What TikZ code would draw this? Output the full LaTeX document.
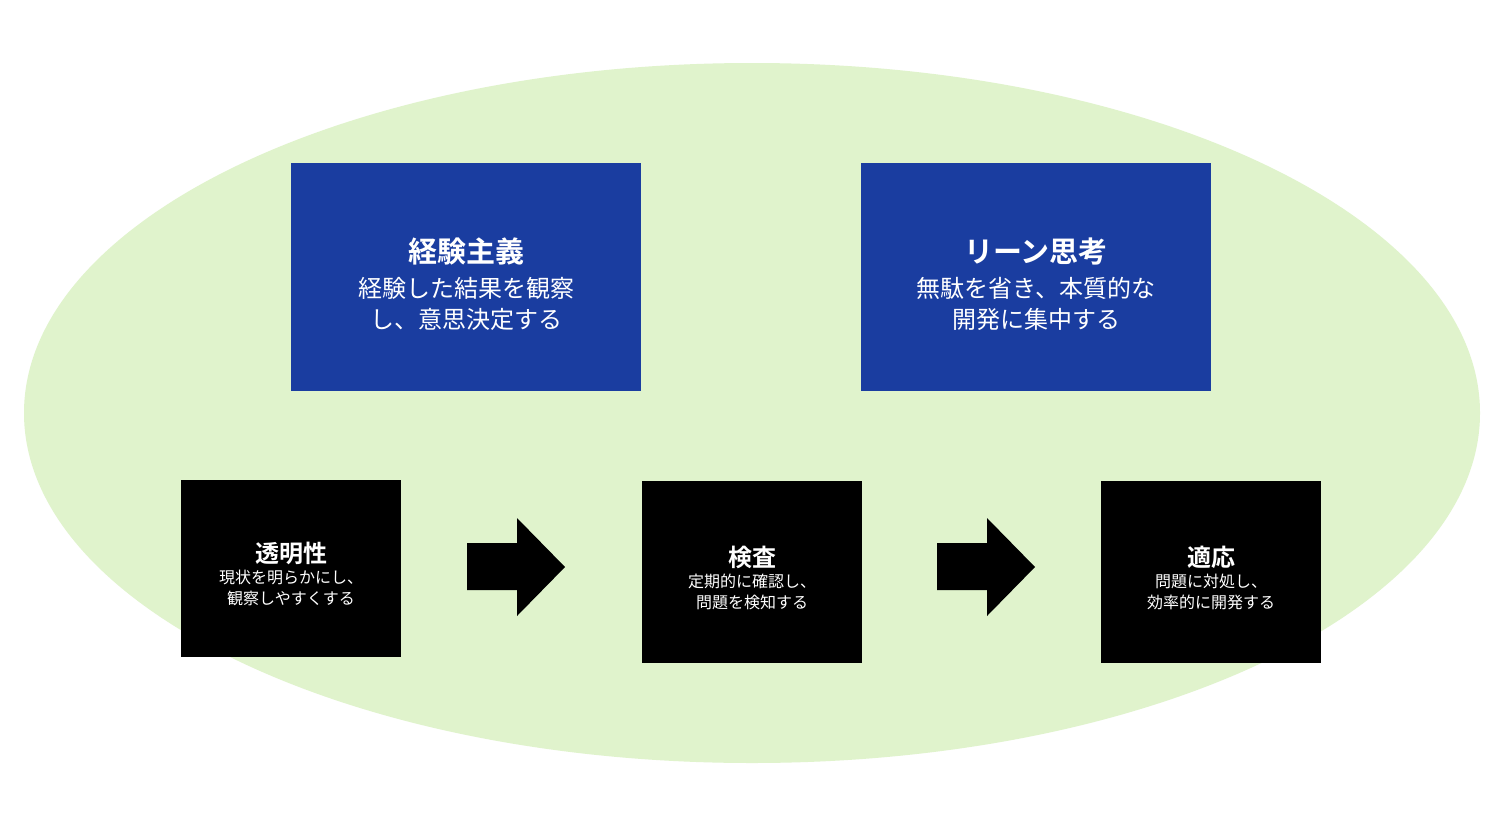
\documentclass[tikz,border=0pt]{standalone}
\usepackage{fontspec}
\usetikzlibrary{shapes.geometric}
\setmainfont{Noto Sans CJK JP}[BoldFont={Noto Sans CJK JP Bold}]
\begin{document}
\begin{tikzpicture}[x=1pt,y=-1pt,
  arr/.style={fill=black,draw=none},
  bt/.style={text=white,align=center,font=\fontsize{24}{31}\selectfont},
  kt/.style={text=white,align=center,font=\fontsize{16}{21}\selectfont}]
\definecolor{blueC}{HTML}{1A3DA0}
\definecolor{greenC}{HTML}{E0F3CC}
\useasboundingbox (0,0) rectangle (1506,830);
\fill[white] (0,0) rectangle (1506,830);
\node[ellipse,fill=greenC,minimum width=1456,minimum height=700,inner sep=0] (ell) at (752,413) {};
\fill[blueC] (291,163) rectangle (641,391);
\fill[blueC] (861,163) rectangle (1211,391);
\node[bt] (b1) at (466,284)
 {{\fontsize{29}{36}\selectfont\bfseries 経験主義}\\[4pt]経験した結果を観察\\し、意思決定する};
\node[bt] (b2) at (1036,284)
 {{\fontsize{29}{36}\selectfont\bfseries リーン思考}\\[4pt]無駄を省き、本質的な\\開発に集中する};
\fill (181,480) rectangle (401,657);
\fill (642,481) rectangle (862,663);
\fill (1101,481) rectangle (1321,663);
\node[kt] (k1) at (291,574)
 {{\fontsize{24}{30}\selectfont\bfseries 透明性}\\現状を明らかにし、\\観察しやすくする};
\node[kt] (k2) at (752,578)
 {{\fontsize{24}{30}\selectfont\bfseries 検査}\\定期的に確認し、\\問題を検知する};
\node[kt] (k3) at (1211,578)
 {{\fontsize{24}{30}\selectfont\bfseries 適応}\\問題に対処し、\\効率的に開発する};
\fill[arr] (467,543) -- (517,543) -- (517,518) -- (565,567) -- (517,616) -- (517,590) -- (467,590) -- cycle;
\fill[arr] (937,543) -- (987,543) -- (987,518) -- (1035,567) -- (987,616) -- (987,590) -- (937,590) -- cycle;
\end{tikzpicture}
\end{document}
